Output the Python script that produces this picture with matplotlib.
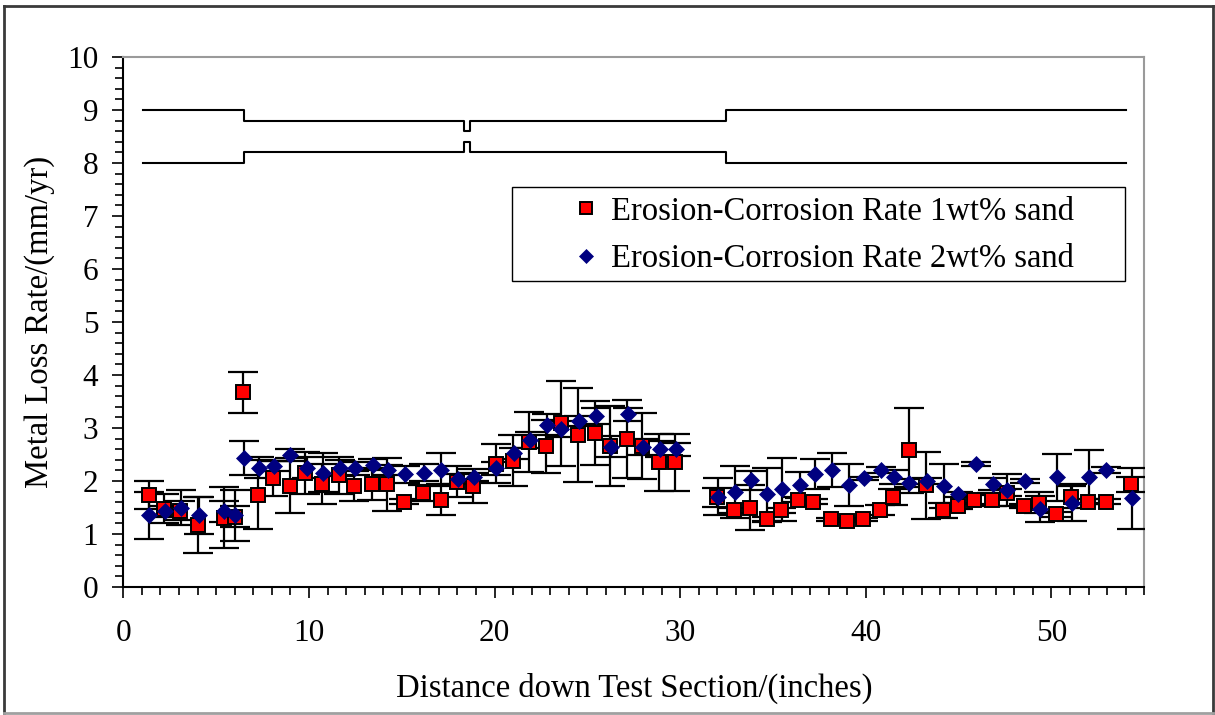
import matplotlib
matplotlib.use("Agg")
import matplotlib.pyplot as plt
from matplotlib.lines import Line2D
from matplotlib.patches import Rectangle
from matplotlib.ticker import MultipleLocator

plt.rcParams['font.family'] = ['Liberation Serif', 'DejaVu Serif']

# Erosion-corrosion rate, 1 wt% sand
x_1wt = [1.37, 2.17, 3.07, 4.0, 5.41, 6.0, 6.45, 7.26, 8.05, 9.0,
         9.77, 10.71, 11.64, 12.45, 13.4, 14.18, 15.11, 16.15, 17.09, 17.98,
         18.85, 20.05, 21.0, 21.85, 22.75, 23.56, 24.49, 25.41, 26.22, 27.15,
         27.96, 28.87, 29.7,
         32.0, 32.9, 33.76, 34.66, 35.45, 36.37, 37.18,
         38.11, 39.01, 39.82, 40.75, 41.47, 42.3, 43.23, 44.13, 44.94, 45.84,
         46.77, 47.6, 48.53, 49.34, 50.24, 51.05, 51.99, 52.91, 54.29]
rate_1wt = [1.74, 1.48, 1.44, 1.17, 1.31, 1.33, 3.67, 1.74, 2.05, 1.91,
            2.15, 1.94, 2.11, 1.91, 1.94, 1.94, 1.61, 1.78, 1.65, 1.99,
            1.91, 2.33, 2.38, 2.74, 2.66, 3.09, 2.87, 2.91, 2.66, 2.79,
            2.66, 2.35, 2.35,
            1.69, 1.45, 1.50, 1.28, 1.45, 1.65, 1.61,
            1.28, 1.25, 1.28, 1.45, 1.70, 2.58, 1.92, 1.45, 1.53, 1.65,
            1.65, 1.78, 1.53, 1.59, 1.37, 1.70, 1.61, 1.61, 1.94]
err_1wt = [0.26, 0.27, 0.18, 0.53, 0.57, 0.20, 0.38, 0.65, 0.33, 0.52,
           0.40, 0.38, 0.35, 0.28, 0.30, 0.50, 0.05, 0.15, 0.30, 0.30,
           0.32, 0.37, 0.48, 0.57, 0.50, 0.80, 0.88, 0.60, 0.75, 0.74,
           0.63, 0.53, 0.54,
           0.18, 0.05, 0.42, 0.05, 0.05, 0.05, 0.05,
           0.03, 0.03, 0.03, 0.10, 0.15, 0.80, 0.63, 0.14, 0.05, 0.09,
           0.13, 0.06, 0.04, 0.20, 0.05, 0.20, 0.05, 0.05, 0.14]

# Erosion-corrosion rate, 2 wt% sand
x_2wt = [1.4, 2.23, 3.13, 4.06, 5.44, 6.04, 6.49, 7.33, 8.1, 9.0,
         9.9, 10.76, 11.66, 12.5, 13.44, 14.25, 15.16, 16.19, 17.13, 18.02,
         18.88, 20.1, 21.04, 21.89, 22.8, 23.6, 24.54, 25.48, 26.25, 27.18,
         28.02, 28.91, 29.76,
         32.04, 32.95, 33.8, 34.7, 35.5, 36.44, 37.25,
         38.15, 39.1, 39.88, 40.8, 41.52, 42.34, 43.29, 44.19, 44.99, 45.93,
         46.86, 47.63, 48.57, 49.38, 50.3, 51.1, 52.04, 52.94, 54.32]
rate_2wt = [1.35, 1.43, 1.50, 1.35, 1.43, 1.35, 2.44, 2.25, 2.28, 2.49,
            2.25, 2.16, 2.25, 2.24, 2.31, 2.21, 2.13, 2.16, 2.21, 2.04,
            2.08, 2.24, 2.52, 2.77, 3.06, 2.98, 3.13, 3.23, 2.65, 3.26,
            2.65, 2.60, 2.60,
            1.70, 1.80, 2.01, 1.75, 1.84, 1.92, 2.13,
            2.21, 1.92, 2.05, 2.21, 2.07, 1.96, 2.00, 1.91, 1.75, 2.32,
            1.94, 1.83, 2.00, 1.47, 2.07, 1.59, 2.08, 2.21, 1.67]
err_2wt = [0.44, 0.10, 0.33, 0.35, 0.20, 0.48, 0.32, 0.20, 0.10, 0.11,
           0.20, 0.36, 0.15, 0.12, 0.10, 0.10, 0.16, 0.16, 0.31, 0.10,
           0.08, 0.12, 0.10, 0.15, 0.20, 0.15, 0.10, 0.15, 0.20, 0.12,
           0.15, 0.15, 0.12,
           0.35, 0.49, 0.18, 0.50, 0.60, 0.25, 0.29,
           0.32, 0.40, 0.03, 0.05, 0.13, 0.08, 0.05, 0.41, 0.05, 0.03,
           0.11, 0.30, 0.04, 0.24, 0.44, 0.35, 0.50, 0.05, 0.58]

# Test-section wall profile sketched above the data
pipe_x = [1.06, 6.49, 6.49, 18.38, 18.38, 18.65, 18.65, 32.49, 32.49, 54.0]
pipe_upper = [9.0, 9.0, 8.8, 8.8, 8.6, 8.6, 8.8, 8.8, 9.0, 9.0]
pipe_lower = [8.0, 8.0, 8.2, 8.2, 8.4, 8.4, 8.2, 8.2, 8.0, 8.0]

label_1wt = "Erosion-Corrosion Rate 1wt% sand"
label_2wt = "Erosion-Corrosion Rate 2wt% sand"

W, H = 1215, 715
fig = plt.figure(figsize=(W / 100, H / 100), dpi=100)
ax = fig.add_axes([123.3 / W, 1 - 587 / H, 1021 / W, 530 / H])

# Wall profile
ax.plot(pipe_x, pipe_upper, color='black', lw=1.5, zorder=2)
ax.plot(pipe_x, pipe_lower, color='black', lw=1.5, zorder=2)

# Error bars underneath all markers
ebar_kw = dict(fmt='none', ecolor='black', elinewidth=1.6, capsize=10.5,
               capthick=1.6, zorder=3)
ax.errorbar(x_1wt, rate_1wt, yerr=err_1wt, **ebar_kw)
ax.errorbar(x_2wt, rate_2wt, yerr=err_2wt, **ebar_kw)

ax.plot(x_1wt, rate_1wt, linestyle='none', marker='s', markersize=9.6,
        markerfacecolor='#FF0000', markeredgecolor='black',
        markeredgewidth=1.4, zorder=4, label=label_1wt)
ax.plot(x_2wt, rate_2wt, linestyle='none', marker='D', markersize=8.4,
        markerfacecolor='#000080', markeredgecolor='#000080',
        markeredgewidth=0.5, zorder=5, label=label_2wt)

ax.set_xlim(0, 55)
ax.set_ylim(0, 10)
ax.xaxis.set_major_locator(MultipleLocator(10))
ax.xaxis.set_minor_locator(MultipleLocator(1))
ax.yaxis.set_major_locator(MultipleLocator(1))
ax.yaxis.set_minor_locator(MultipleLocator(0.2))
ax.tick_params(axis='both', which='both', direction='out', color='black',
               width=1.2)
ax.tick_params(axis='x', which='major', length=8, pad=15, labelsize=22.5)
ax.tick_params(axis='x', which='minor', length=5.5)
ax.tick_params(axis='y', which='major', length=8, pad=10, labelsize=22.5)
ax.tick_params(axis='y', which='minor', length=5.5)

for side in ('left', 'bottom'):
    ax.spines[side].set_color('black')
    ax.spines[side].set_linewidth(1.5)
for side in ('top', 'right'):
    ax.spines[side].set_color('#9a9a9a')
    ax.spines[side].set_linewidth(1.5)

ax.set_xlabel("Distance down Test Section/(inches)", fontsize=23.5)
ax.xaxis.set_label_coords(0.5, (587 - 688) / 530)
ax.xaxis.label.set_verticalalignment('center')
ax.set_ylabel("Metal Loss Rate/(mm/yr)", fontsize=23.5)
ax.yaxis.set_label_coords((40 - 123.3) / 1021, 0.5)
ax.yaxis.label.set_verticalalignment('center')

# Legend box and entries
ax.add_patch(Rectangle(((512.3 - 123.3) / 1021, (587 - 281) / 530),
                       (1125 - 512.3) / 1021, (281 - 186.7) / 530,
                       transform=ax.transAxes, facecolor='white',
                       edgecolor='black', lw=1.0, zorder=6))
leg = ax.legend(loc='upper left',
                bbox_to_anchor=((570 - 123.3) / 1021, (587 - 196) / 530),
                frameon=False, fontsize=23.5, borderpad=0, borderaxespad=0,
                handlelength=1.0, handletextpad=0.25, labelspacing=0.52,
                markerscale=0.9)
leg.set_zorder(7)

# Outer chart border
fig.add_artist(Line2D([4 / W, 4 / W], [1 - 6 / H, 1 - 713 / H],
                      transform=fig.transFigure, color='#3a3a3a', lw=2))
fig.add_artist(Line2D([4 / W, 1213 / W], [1 - 6 / H, 1 - 6 / H],
                      transform=fig.transFigure, color='#3a3a3a', lw=2))
fig.add_artist(Line2D([1213 / W, 1213 / W], [1 - 6 / H, 1 - 713 / H],
                      transform=fig.transFigure, color='#3a3a3a', lw=2))
fig.add_artist(Line2D([4 / W, 1213 / W], [1 - 713 / H, 1 - 713 / H],
                      transform=fig.transFigure, color='#a0a0a0', lw=2))

fig.savefig("out.png", dpi=100)
